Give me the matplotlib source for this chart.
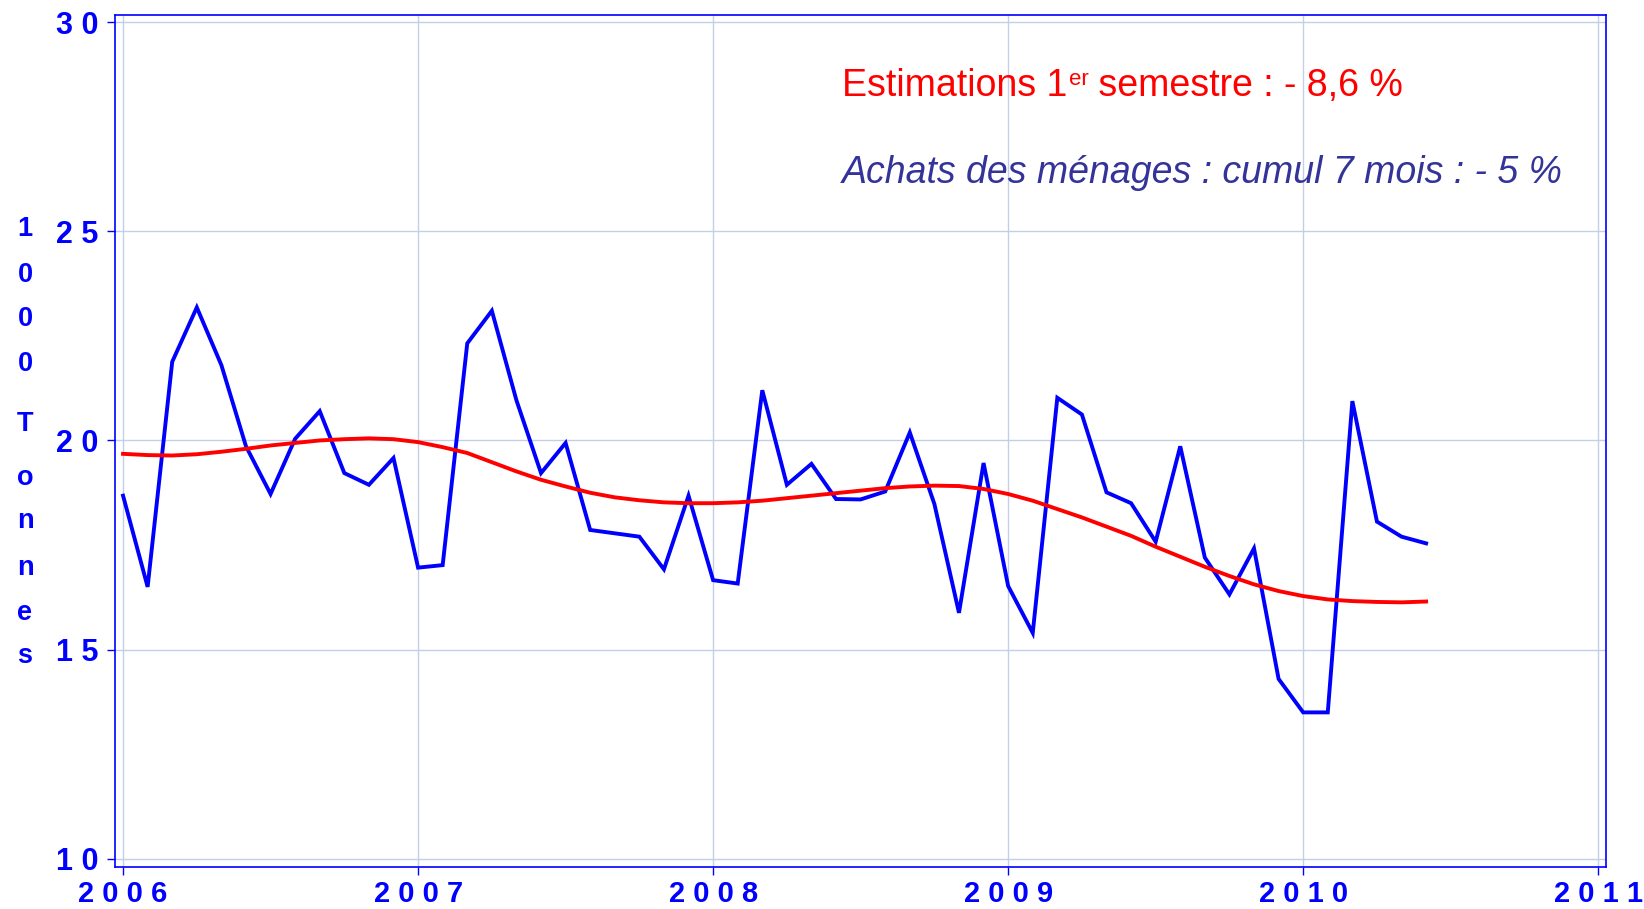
import numpy as np
import matplotlib
matplotlib.use("Agg")
import matplotlib.pyplot as plt
from matplotlib.transforms import offset_copy

# monthly values, Jan 2006 .. Jun 2010 (1000 tonnes)
start_year = 2006
achats = [18.68, 16.50, 21.88, 23.18, 21.80, 19.86, 18.72, 20.04, 20.70, 19.22, 18.94, 19.58,
          16.96, 17.02, 22.32, 23.10, 20.96, 19.22, 19.94, 17.86, 17.78, 17.70, 16.92, 18.68,
          16.66, 16.58, 21.20, 18.94, 19.44, 18.60, 18.59, 18.78, 20.19, 18.48, 15.88, 19.46,
          16.52, 15.40, 21.02, 20.62, 18.76, 18.50, 17.58, 19.86, 17.20, 16.32, 17.42, 14.30,
          13.50, 13.50, 20.94, 18.06, 17.70, 17.54]
tendance = [19.68, 19.65, 19.64, 19.67, 19.73, 19.80, 19.88, 19.94, 20.00, 20.03, 20.05, 20.03,
            19.96, 19.84, 19.70, 19.48, 19.26, 19.06, 18.90, 18.75, 18.64, 18.57, 18.52, 18.50,
            18.50, 18.52, 18.56, 18.62, 18.68, 18.74, 18.80, 18.86, 18.90, 18.92, 18.91, 18.84,
            18.72, 18.56, 18.36, 18.16, 17.94, 17.72, 17.46, 17.22, 16.98, 16.76, 16.56, 16.40,
            16.28, 16.20, 16.16, 16.14, 16.13, 16.15]
years = [2006, 2007, 2008, 2009, 2010, 2011]
yticks = [10, 15, 20, 25, 30]
ylabel_chars = ["1", "0", "0", "0", "T", "o", "n", "n", "e", "s"]

x = start_year + np.arange(len(achats)) / 12.0

blue = "#0000FF"
grid_c = "#C3CFE6"

fig = plt.figure(figsize=(16.44, 9.09), dpi=100)
ax = fig.add_axes([0.070, 0.046, 0.907, 0.938])

ax.plot(x, achats, color=blue, lw=2.8, solid_joinstyle="miter", zorder=3)
ax.plot(x, tendance, color="#FF0000", lw=2.8, zorder=4)

ax.set_xlim(2006 - 0.027, 2011 + 0.027)
ax.set_ylim(9.8, 30.18)
ax.set_xticks(years)
ax.set_xticklabels([" ".join(str(y)) for y in years])
ax.set_yticks(yticks)
ax.set_yticklabels([" ".join(str(v)) for v in yticks])
ax.grid(True, color=grid_c, lw=1.0)
ax.set_axisbelow(True)
for s in ax.spines.values():
    s.set_color(blue)
    s.set_linewidth(1.2)
ax.tick_params(axis="both", colors=blue, width=1.0)
ax.tick_params(axis="y", length=6, pad=6)
ax.tick_params(axis="x", length=6, pad=3)
for lab in ax.get_yticklabels():
    lab.set_fontfamily("Liberation Sans")
    lab.set_fontweight("bold")
    lab.set_fontsize(22)
    lab.set_color(blue)
for lab in ax.get_xticklabels():
    lab.set_fontfamily("Liberation Sans")
    lab.set_fontweight("bold")
    lab.set_fontsize(21)
    lab.set_color(blue)

# vertical stacked axis label (baselines)
ypos = [0.7407, 0.6901, 0.6417, 0.5922, 0.5262, 0.4667, 0.4189, 0.3677, 0.3182, 0.2704]
for ch, yy in zip(ylabel_chars, ypos):
    fig.text(0.0152, yy, ch, ha="center", va="baseline", color=blue,
             fontfamily="Liberation Sans", fontweight="bold", fontsize=19.5)

# annotations
fig.canvas.draw()
r = fig.canvas.get_renderer()
red = "#FF0000"
fs = 27
t1 = ax.text(2008.438, 28.24, "Estimations 1", color=red, fontsize=fs,
             fontfamily="Liberation Sans", va="baseline", ha="left")
w1 = t1.get_window_extent(r).width
t2 = ax.text(2008.438, 28.24, "er", color=red, fontsize=16, fontfamily="Liberation Sans",
             va="baseline", ha="left",
             transform=offset_copy(ax.transData, fig, x=w1 + 1, y=11, units="dots"))
w2 = t2.get_window_extent(r).width
ax.text(2008.438, 28.24, " semestre : - 8,6 %", color=red, fontsize=fs,
        fontfamily="Liberation Sans", va="baseline", ha="left",
        transform=offset_copy(ax.transData, fig, x=w1 + w2 + 1, y=0, units="dots"))

ax.text(2008.438, 26.16, "Achats des ménages : cumul 7 mois : - 5 %", color="#333399",
        fontsize=fs, fontfamily="Liberation Sans", fontstyle="italic",
        va="baseline", ha="left")

fig.savefig("out.png", dpi=100)
